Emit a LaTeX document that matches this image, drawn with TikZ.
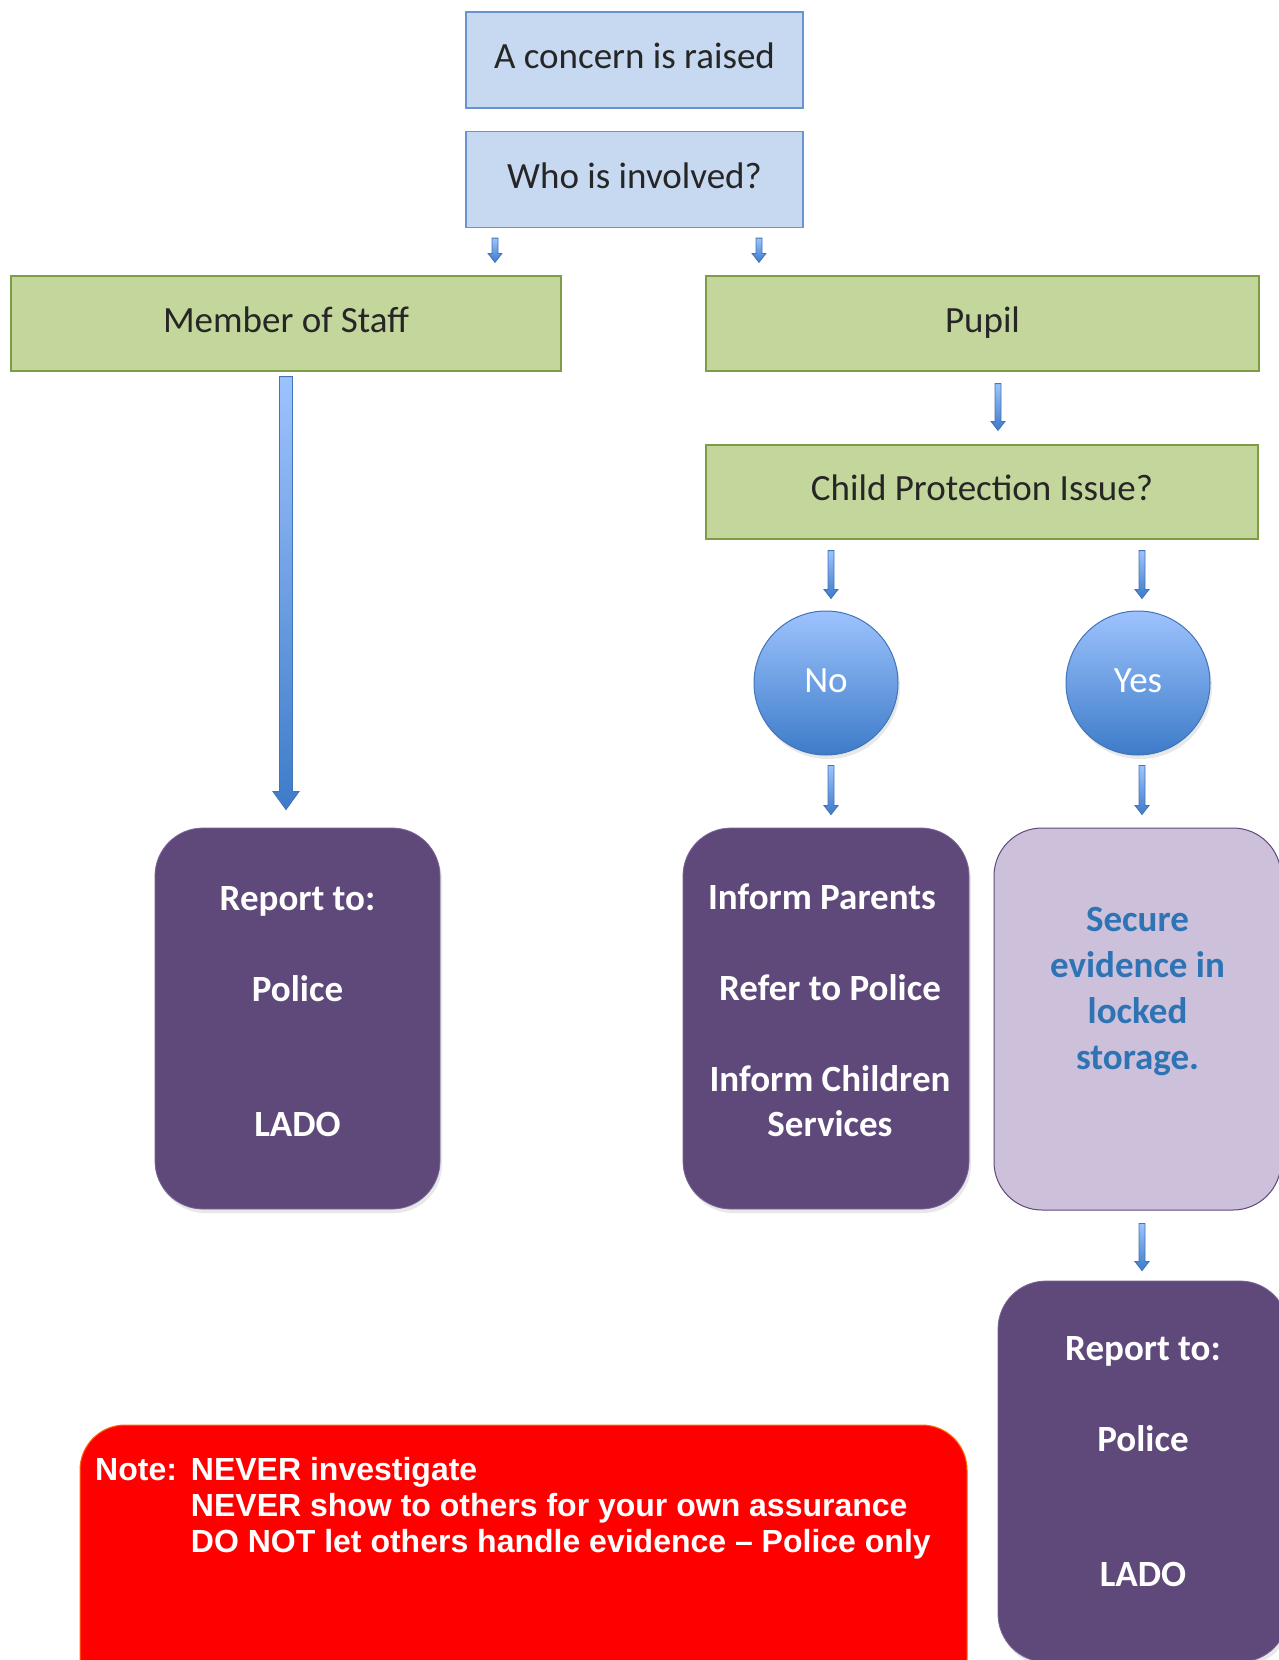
\documentclass[tikz,border=0pt]{standalone}
\usepackage{fontspec}
\setmainfont{Carlito}
\newfontfamily\notefont{Liberation Sans}
\usetikzlibrary{positioning,calc,shadows}

\definecolor{askfill}{HTML}{C6D9F1}
\definecolor{askline}{HTML}{6A93CF}
\definecolor{grpfill}{HTML}{C3D69B}
\definecolor{grpline}{HTML}{7E9C45}
\definecolor{actfill}{HTML}{5F497A}
\definecolor{actline}{HTML}{7A6596}
\definecolor{keepfill}{HTML}{CCC0DA}
\definecolor{keeptext}{HTML}{2E74B5}
\definecolor{arrtop}{HTML}{9DC3FD}
\definecolor{arrbot}{HTML}{3D7BC9}
\definecolor{arrline}{HTML}{4274B8}
\definecolor{notefill}{HTML}{FF0000}
\definecolor{noteline}{HTML}{FF6A00}

% block arrow: from, to, shaft half width, head half width, head length
\newcommand{\blockarrow}[5]{%
  \path[blockfill] let \p1=(#1), \p2=(#2) in
    (\x1-#3,\y1) -- (\x1+#3,\y1) -- (\x1+#3,\y2+#5) -- (\x1+#4,\y2+#5)
    -- (\x1,\y2) -- (\x1-#4,\y2+#5) -- (\x1-#3,\y2+#5) -- cycle;}
\newcommand{\pad}{\rule{8pt}{0pt}}

\begin{document}
\begin{tikzpicture}[x=1pt, y=-1pt, font=\fontsize{37}{45}\selectfont,
    ask/.style={draw=askline, fill=askfill, line width=1.2pt, minimum width=337pt, minimum height=96pt, inner sep=0pt, text=black!85, text height=26pt, text depth=8.5pt},
    grp/.style={draw=grpline, fill=grpfill, line width=1.2pt, minimum height=95pt, inner sep=0pt, text=black!85, text height=26pt, text depth=8.5pt},
    answer/.style={circle, draw=arrline, line width=1pt, top color=arrtop, bottom color=arrbot, minimum size=144pt, inner sep=0pt, text=white, text height=24pt, text depth=6pt,
      drop shadow={opacity=0.18, shadow xshift=2pt, shadow yshift=-4pt}},
    act/.style={draw=actline, fill=actfill, rounded corners=48pt, line width=0.8pt, minimum width=285pt, minimum height=381pt, align=center, text=white, font=\fontsize{37}{45}\selectfont\bfseries,
      drop shadow={opacity=0.18, shadow xshift=2pt, shadow yshift=-4pt}},
    keep/.style={draw=actfill, fill=keepfill, rounded corners=48pt, line width=1pt, minimum width=287pt, minimum height=382pt, align=center, text=keeptext, font=\fontsize{37}{46}\selectfont\bfseries},
    note/.style={draw=noteline, fill=notefill, rounded corners=45pt, line width=1pt, minimum width=887pt, minimum height=280pt},
    blockfill/.style={top color=arrtop, bottom color=arrbot, draw=arrline, line width=0.8pt}]
  \fill[white] (0,0) rectangle (1279,1660);
  \useasboundingbox (0,0) rectangle (1279,1660);

  \node[ask] (concern) at (634.5,60) {A concern is raised};
  \node[ask] (who) at (634.5,179.5) {Who is involved?};

  \node[grp, minimum width=550pt] (staff) at (286,323.5) {Member of Staff};
  \node[grp, minimum width=553pt] (pupil) at (982.5,323.5) {Pupil};
  \node[grp, minimum width=552pt, minimum height=94pt] (cpi) at (982,492) {Child Protection Issue?};

  \node[answer] (no) at (826,683) {No};
  \node[answer] (yes) at (1138,683) {Yes};

  \node[act] (report) at (297.5,1018.5) {Report to:\\[46pt]Police\\[90pt]LADO\\[-30pt]\mbox{}};
  \node[act, minimum width=286pt] (inform) at (826,1018.5)
    {Inform Parents\pad\\[46pt]\pad Refer to Police\\[46pt]\pad Inform Children\\\pad Services\\[-28pt]\mbox{}};
  \node[keep] (secure) at (1137.5,1019) {Secure\\evidence in\\locked\\storage.\\[16pt]\mbox{}};
  \node[act, minimum width=290pt] (report2) at (1143,1471.5) {Report to:\\[46pt]Police\\[90pt]LADO\\[-25pt]\mbox{}};

  \node[note] (warn) at (523.5,1565) {};
  \node[anchor=north west, inner sep=0pt, text=white, font=\notefont\bfseries\fontsize{32}{36}\selectfont] (warntext) at (95,1455)
    {\begin{tabular}{@{}l@{\hspace{14pt}}l@{}}
      Note: & NEVER investigate\\
            & NEVER show to others for your own assurance\\
            & DO NOT let others handle evidence – Police only
    \end{tabular}};

  % arrow ends
  \coordinate (s1) at ([xshift=-139.5pt,yshift=-10pt]who.south);
  \coordinate (e1) at ([yshift=13pt]s1 |- staff.north);
  \coordinate (s2) at ([xshift=124.5pt,yshift=-10pt]who.south);
  \coordinate (e2) at ([yshift=13pt]s2 |- pupil.north);
  \coordinate (s3) at ([xshift=15.5pt,yshift=-12pt]pupil.south);
  \coordinate (e3) at ([yshift=14pt]s3 |- cpi.north);
  \coordinate (s4) at ([xshift=5pt,yshift=-11pt]no.north |- cpi.south);
  \coordinate (e4) at ([yshift=12pt]s4 |- no.north);
  \coordinate (s5) at ([xshift=4pt,yshift=-11pt]yes.north |- cpi.south);
  \coordinate (e5) at ([yshift=12pt]s5 |- yes.north);
  \coordinate (s6) at ([xshift=5pt,yshift=-10pt]no.south);
  \coordinate (e6) at ([yshift=13pt]s6 |- inform.north);
  \coordinate (s7) at ([xshift=4pt,yshift=-10pt]yes.south);
  \coordinate (e7) at ([yshift=13pt]s7 |- secure.north);
  \coordinate (s8) at ([xshift=4.5pt,yshift=-13pt]secure.south);
  \coordinate (e8) at ([yshift=10pt]s8 |- report2.north);
  \coordinate (s9) at ([yshift=-5pt]staff.south);
  \coordinate (e9) at ([xshift=-11.5pt,yshift=18pt]report.north -| s9);

  \blockarrow{s1}{e1}{3pt}{7pt}{9pt}
  \blockarrow{s2}{e2}{3pt}{7pt}{9pt}
  \blockarrow{s3}{e3}{3pt}{7pt}{9pt}
  \blockarrow{s4}{e4}{3pt}{7pt}{9pt}
  \blockarrow{s5}{e5}{3pt}{7pt}{9pt}
  \blockarrow{s6}{e6}{3pt}{7pt}{9pt}
  \blockarrow{s7}{e7}{3pt}{7pt}{9pt}
  \blockarrow{s8}{e8}{3pt}{7pt}{9pt}
  \blockarrow{s9}{e9}{6.5pt}{13pt}{18pt}
\end{tikzpicture}
\end{document}
